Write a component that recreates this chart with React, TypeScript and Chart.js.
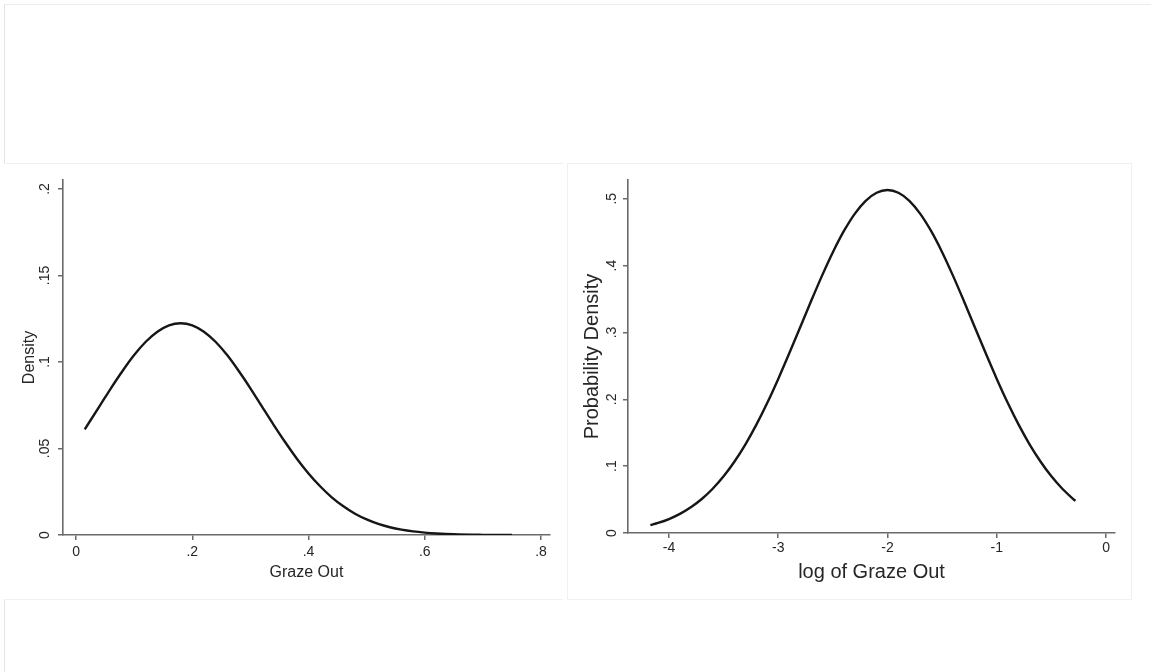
import React, { useEffect, useRef } from "react";
import { Chart, registerables } from "chart.js";
Chart.register(...registerables);

// ---- Left panel data: Graze Out density ----
const grazeOut = [0.015, 0.04, 0.06, 0.08, 0.10, 0.12, 0.14, 0.16, 0.18, 0.20, 0.22, 0.24, 0.26, 0.28, 0.30, 0.32, 0.34, 0.36, 0.38, 0.40, 0.42, 0.44, 0.46, 0.48, 0.50, 0.52, 0.54, 0.56, 0.58, 0.60, 0.62, 0.65, 0.70, 0.75];
const grazeDensity = [0.0611, 0.0742, 0.0848, 0.0948, 0.1040, 0.1117, 0.1175, 0.1212, 0.1224, 0.1212, 0.1175, 0.1117, 0.1040, 0.0948, 0.0848, 0.0742, 0.0637, 0.0536, 0.0441, 0.0356, 0.0282, 0.0218, 0.0166, 0.0123, 0.0090, 0.0064, 0.0045, 0.0031, 0.0021, 0.0014, 0.0009, 0.0004, 0.0001, 0.0000];
const leftXTicks = [0, 0.2, 0.4, 0.6, 0.8];
const leftXTickLabels = ["0", ".2", ".4", ".6", ".8"];
const leftYTicks = [0, 0.05, 0.1, 0.15, 0.2];
const leftYTickLabels = ["0", ".05", ".1", ".15", ".2"];

// ---- Right panel data: log of Graze Out probability density ----
const logGraze = [-4.17, -4.1, -4.0, -3.9, -3.8, -3.7, -3.6, -3.5, -3.4, -3.3, -3.2, -3.1, -3.0, -2.9, -2.8, -2.7, -2.6, -2.5, -2.4, -2.3, -2.2, -2.1, -2.0, -1.9, -1.8, -1.7, -1.6, -1.5, -1.4, -1.3, -1.2, -1.1, -1.0, -0.9, -0.8, -0.7, -0.6, -0.5, -0.4, -0.3, -0.28];
const logDensity = [0.0119, 0.0151, 0.0209, 0.0286, 0.0384, 0.0508, 0.0662, 0.0848, 0.1070, 0.1327, 0.1621, 0.1948, 0.2305, 0.2684, 0.3074, 0.3466, 0.3846, 0.4200, 0.4514, 0.4774, 0.4968, 0.5089, 0.5130, 0.5089, 0.4968, 0.4774, 0.4514, 0.4200, 0.3846, 0.3466, 0.3074, 0.2684, 0.2305, 0.1948, 0.1621, 0.1327, 0.1070, 0.0848, 0.0662, 0.0508, 0.0481];
const rightXTicks = [-4, -3, -2, -1, 0];
const rightXTickLabels = ["-4", "-3", "-2", "-1", "0"];
const rightYTicks = [0, 0.1, 0.2, 0.3, 0.4, 0.5];
const rightYTickLabels = ["0", ".1", ".2", ".3", ".4", ".5"];

const FONT = "'Liberation Sans', Arial, Helvetica, sans-serif";
const AXIS = "#6a6a6a";
const TEXT = "#262626";

function labelFor(ticks: number[], labels: string[]) {
  return (v: any) => {
    const i = ticks.findIndex((t) => Math.abs(t - Number(v)) < 1e-9);
    return i >= 0 ? labels[i] : "";
  };
}

type PanelCfg = {
  xs: number[];
  ys: number[];
  xMin: number; xMax: number; yMin: number; yMax: number;
  xTicks: number[]; xLabels: string[]; yTicks: number[]; yLabels: string[];
  xTitle: string; yTitle: string; titleSize: number;
  yAxisWidth: number; xAxisHeight: number; padTop: number; padRight: number;
  xTickPad: number; yTickPad: number; xTitlePadBottom: number; yTitlePadTop: number;
  width: number; height: number;
};

function Panel({ cfg }: { cfg: PanelCfg }) {
  const ref = useRef<HTMLCanvasElement | null>(null);
  useEffect(() => {
    if (!ref.current) return;
    const pts = cfg.xs.map((x, i) => ({ x, y: cfg.ys[i] }));
    const chart = new Chart(ref.current, {
      type: "line",
      data: {
        datasets: [
          {
            data: pts,
            borderColor: "#161616",
            borderWidth: 2.4,
            pointRadius: 0,
            cubicInterpolationMode: "monotone",
            fill: false,
          } as any,
        ],
      },
      options: {
        animation: false,
        responsive: false,
        maintainAspectRatio: false,
        events: [],
        layout: { padding: { top: cfg.padTop, right: cfg.padRight, left: 0, bottom: 0 } },
        plugins: { legend: { display: false }, tooltip: { enabled: false } },
        scales: {
          x: {
            type: "linear",
            min: cfg.xMin,
            max: cfg.xMax,
            afterBuildTicks: (s: any) => { s.ticks = cfg.xTicks.map((v) => ({ value: v })); },
            afterFit: (s: any) => { s.height = cfg.xAxisHeight; },
            ticks: {
              autoSkip: false,
              maxRotation: 0,
              minRotation: 0,
              padding: cfg.xTickPad,
              color: TEXT,
              font: { family: FONT, size: 14 },
              callback: labelFor(cfg.xTicks, cfg.xLabels),
            },
            grid: { display: true, drawOnChartArea: false, drawTicks: true, tickLength: 5, color: AXIS, lineWidth: 1.5 },
            border: { display: true, color: AXIS, width: 1.6 },
            title: {
              display: true,
              text: cfg.xTitle,
              color: TEXT,
              font: { family: FONT, size: cfg.titleSize },
              padding: { top: 0, bottom: cfg.xTitlePadBottom },
            },
          },
          y: {
            type: "linear",
            min: cfg.yMin,
            max: cfg.yMax,
            afterBuildTicks: (s: any) => { s.ticks = cfg.yTicks.map((v) => ({ value: v })); },
            afterFit: (s: any) => { s.width = cfg.yAxisWidth; },
            ticks: {
              autoSkip: false,
              minRotation: 90,
              maxRotation: 90,
              crossAlign: "center",
              padding: cfg.yTickPad,
              color: TEXT,
              font: { family: FONT, size: 14 },
              callback: labelFor(cfg.yTicks, cfg.yLabels),
            },
            grid: { display: true, drawOnChartArea: false, drawTicks: true, tickLength: 5, color: AXIS, lineWidth: 1.5 },
            border: { display: true, color: AXIS, width: 1.6 },
            title: {
              display: true,
              text: cfg.yTitle,
              color: TEXT,
              font: { family: FONT, size: cfg.titleSize },
              padding: { top: cfg.yTitlePadTop, bottom: 0 },
            },
          },
        },
      } as any,
    });
    return () => chart.destroy();
  }, [cfg]);
  return <canvas ref={ref} width={cfg.width} height={cfg.height} style={{ display: "block", width: cfg.width, height: cfg.height }} />;
}

const leftCfg: PanelCfg = {
  xs: grazeOut, ys: grazeDensity,
  xMin: -0.0224, xMax: 0.8155, yMin: 0, yMax: 0.2052,
  xTicks: leftXTicks, xLabels: leftXTickLabels, yTicks: leftYTicks, yLabels: leftYTickLabels,
  xTitle: "Graze Out", yTitle: "Density", titleSize: 16,
  yAxisWidth: 55, xAxisHeight: 63, padTop: 17, padRight: 13,
  xTickPad: 4, yTickPad: 3.3, xTitlePadBottom: 15.4, yTitlePadTop: 12.4,
  width: 555, height: 435,
};

const rightCfg: PanelCfg = {
  xs: logGraze, ys: logDensity,
  xMin: -4.375, xMax: 0.082, yMin: 0, yMax: 0.528,
  xTicks: rightXTicks, xLabels: rightXTickLabels, yTicks: rightYTicks, yLabels: rightYTickLabels,
  xTitle: "log of Graze Out", yTitle: "Probability Density", titleSize: 20,
  yAxisWidth: 61, xAxisHeight: 65, padTop: 17, padRight: 15,
  xTickPad: 2, yTickPad: 5.2, xTitlePadBottom: 14, yTitlePadTop: 13,
  width: 563, height: 435,
};

export default function App() {
  return (
    <div style={{ position: "absolute", left: 0, top: 0, width: 1151, height: 672, background: "#ffffff", overflow: "hidden" }}>
      <div style={{ position: "absolute", left: 4, top: 4, width: 1147, height: 668, borderLeft: "1px solid #e4e4e4", borderTop: "1px solid #ececec" }} />
      <div style={{ position: "absolute", left: 4, top: 163, width: 559, height: 435, background: "#ffffff", borderTop: "1px solid #eff1f3", borderBottom: "1px solid #eff1f3" }} />
      <div style={{ position: "absolute", left: 567, top: 163, width: 563, height: 435, background: "#ffffff", border: "1px solid #eff1f3" }} />
      <div style={{ position: "absolute", left: 8, top: 163 }}>
        <Panel cfg={leftCfg} />
      </div>
      <div style={{ position: "absolute", left: 567, top: 163 }}>
        <Panel cfg={rightCfg} />
      </div>
    </div>
  );
}
